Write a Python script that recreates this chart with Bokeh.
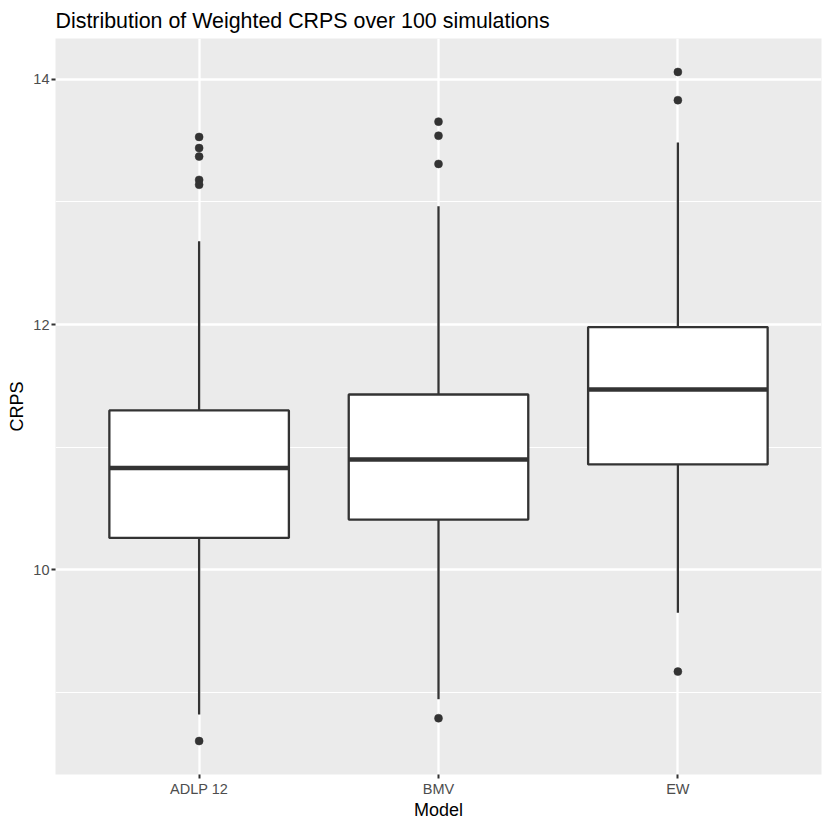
from bokeh.plotting import figure
from bokeh.models import Range1d, FixedTicker, ColumnDataSource
from bokeh.embed import file_html
from bokeh.resources import INLINE

# ---- data ----
models = ["ADLP 12", "BMV", "EW"]
q1 = [10.26, 10.41, 10.86]
median = [10.83, 10.90, 11.47]
q3 = [11.30, 11.43, 11.98]
whisker_low = [8.82, 8.945, 9.65]
whisker_high = [12.68, 12.966, 13.485]
outlier_model = ["ADLP 12"] * 6 + ["BMV"] * 4 + ["EW"] * 3
outlier_value = [13.53, 13.44, 13.37, 13.18, 13.14, 8.604,
                 13.655, 13.54, 13.31, 8.79,
                 14.06, 13.83, 9.17]
y_major = [10, 12, 14]
y_minor = [9, 11, 13]

FONT = "Liberation Sans"
BOX_W = 0.75
pos = {m: i + 1 for i, m in enumerate(models)}
xs = [pos[m] for m in models]

src = ColumnDataSource(dict(
    x=xs,
    left=[x - BOX_W / 2 for x in xs],
    right=[x + BOX_W / 2 for x in xs],
    q1=q1, med=median, q3=q3, lo=whisker_low, hi=whisker_high,
))
osrc = ColumnDataSource(dict(x=[pos[m] for m in outlier_model], y=outlier_value))

p = figure(width=822, height=822, output_backend="svg", toolbar_location=None,
           x_range=Range1d(0.4, 3.6), y_range=Range1d(8.331, 14.333),
           min_border_left=55, min_border_right=1, min_border_top=38, min_border_bottom=45)
p.background_fill_color = "#EBEBEB"
p.border_fill_color = "white"
p.outline_line_color = None

p.title.text = "Distribution of Weighted CRPS over 100 simulations"
p.title.text_font = FONT
p.title.text_font_size = "21.4px"
p.title.text_font_style = "normal"
p.title.text_color = "black"
p.title.align = "left"
p.title.standoff = 12

# axes
p.xaxis.ticker = FixedTicker(ticks=xs)
p.xaxis.major_label_overrides = {pos[m]: m for m in models}
p.yaxis.ticker = FixedTicker(ticks=y_major, minor_ticks=y_minor)
for ax in (p.xaxis, p.yaxis):
    ax.axis_line_color = None
    ax.major_tick_line_color = "#333333"
    ax.major_tick_line_width = 2
    ax.major_tick_out = 4
    ax.major_tick_in = 0
    ax.minor_tick_line_color = None
    ax.major_label_text_font = FONT
    ax.major_label_text_font_size = "14.5px"
    ax.major_label_text_color = "#4D4D4D"
    ax.major_label_standoff = 2
    ax.axis_label_text_font = FONT
    ax.axis_label_text_font_size = "18px"
    ax.axis_label_text_font_style = "normal"
    ax.axis_label_text_color = "black"
p.xaxis.axis_label = "Model"
p.yaxis.axis_label = "CRPS"
p.xaxis.axis_label_standoff = 0
p.yaxis.axis_label_standoff = 3

# grid
p.xgrid.grid_line_color = "white"
p.xgrid.grid_line_width = 2.3
p.ygrid.grid_line_color = "white"
p.ygrid.grid_line_width = 2.3
p.ygrid.minor_grid_line_color = "white"
p.ygrid.minor_grid_line_width = 1.2

LC = "#333333"
p.segment(x0="x", y0="q3", x1="x", y1="hi", source=src, line_color=LC, line_width=2.3)
p.segment(x0="x", y0="q1", x1="x", y1="lo", source=src, line_color=LC, line_width=2.3)
p.quad(left="left", right="right", bottom="q1", top="q3", source=src,
       fill_color="white", line_color=LC, line_width=2.3)
p.segment(x0="left", y0="med", x1="right", y1="med", source=src, line_color=LC, line_width=4.5)
p.scatter(x="x", y="y", source=osrc, size=8, fill_color=LC, line_color=LC, line_width=0.5)

open("out.html", "w").write(file_html(p, INLINE))
